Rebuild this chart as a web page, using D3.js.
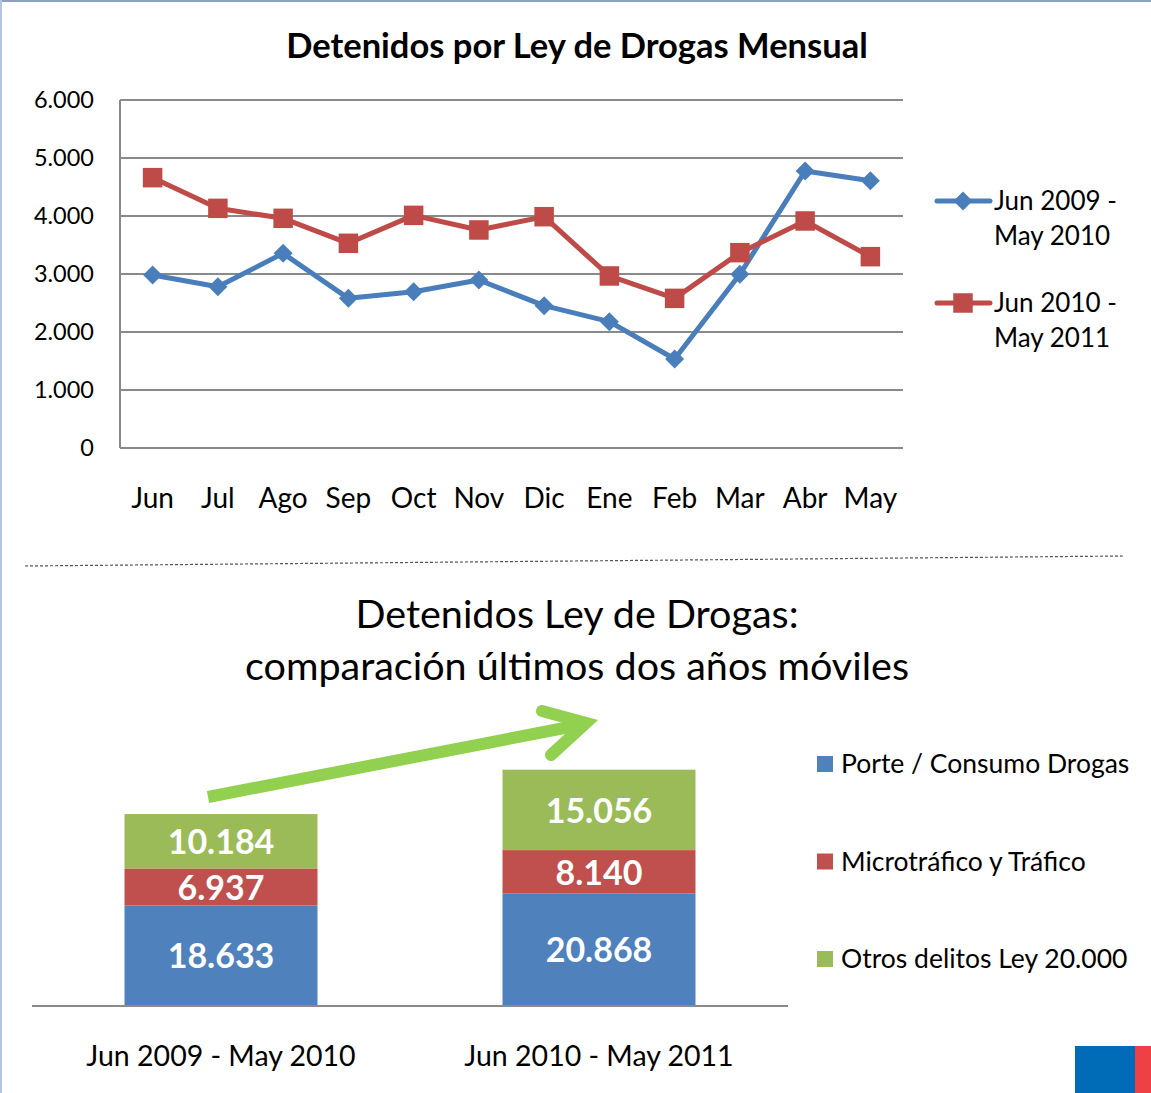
<!DOCTYPE html>
<html>
<head>
<meta charset="utf-8">
<script src="https://cdn.jsdelivr.net/npm/d3@7"></script>
<style>
  body { margin: 0; background: #fff; }
  svg { display: block; font-family: Lato, "Open Sans", sans-serif; }
</style>
</head>
<body>
<svg id="chart" width="1151" height="1093"></svg>
<script>
// monthly data
var months = ["Jun", "Jul", "Ago", "Sep", "Oct", "Nov", "Dic", "Ene", "Feb", "Mar", "Abr", "May"];
var serie2009 = [2983, 2781, 3356, 2580, 2695, 2897, 2454, 2178, 1534, 2995, 4776, 4609];
var serie2010 = [4661, 4132, 3960, 3529, 4011, 3759, 3988, 2966, 2580, 3368, 3914, 3299];
var serieNames = ["Jun 2009 - May 2010", "Jun 2010 - May 2011"];
var yTicks = [0, 1000, 2000, 3000, 4000, 5000, 6000];

// yearly stacked bars
var periods = ["Jun 2009 - May 2010", "Jun 2010 - May 2011"];
var porte = [18633, 20868];
var micro = [6937, 8140];
var otros = [10184, 15056];
var tipos = ["Porte / Consumo Drogas", "Microtráfico y Tráfico", "Otros delitos Ley 20.000"];

var es = d3.formatLocale({decimal: ",", thousands: ".", grouping: [3], currency: ["$", ""]});
var fmt = es.format(",d");

var svg = d3.select("#chart");

// frame lines
svg.append("line").attr("x1", 0).attr("x2", 1151).attr("y1", 1).attr("y2", 1)
  .attr("stroke", "#8da0bf").attr("stroke-width", 2);
svg.append("line").attr("x1", 1).attr("x2", 1).attr("y1", 0).attr("y2", 1093)
  .attr("stroke", "#b3c5df").attr("stroke-width", 2);

// ---------- top: line chart ----------
var x = d3.scalePoint().domain(months).range([120, 903]).padding(0.5);
var y = d3.scaleLinear().domain([0, 6000]).range([448, 100]);

svg.append("text").attr("x", 577).attr("y", 58).attr("text-anchor", "middle")
  .attr("font-size", 34.5).attr("font-weight", "bold").attr("fill", "#000")
  .text("Detenidos por Ley de Drogas Mensual");

// gridlines
svg.append("g").selectAll("line").data(yTicks).enter().append("line")
  .attr("x1", 120).attr("x2", 903)
  .attr("y1", d => y(d)).attr("y2", d => y(d))
  .attr("stroke", "#8a8a8a").attr("stroke-width", 2);
svg.append("line").attr("x1", 120).attr("x2", 120).attr("y1", y(6000)).attr("y2", y(0))
  .attr("stroke", "#8a8a8a").attr("stroke-width", 2);

svg.append("g").selectAll("text").data(yTicks).enter().append("text")
  .attr("x", 94).attr("y", d => y(d)).attr("dy", "0.35em")
  .attr("text-anchor", "end").attr("font-size", 23.5).attr("fill", "#000")
  .text(d => fmt(d));

svg.append("g").selectAll("text").data(months).enter().append("text")
  .attr("x", d => x(d)).attr("y", 508)
  .attr("text-anchor", "middle").attr("font-size", 28).attr("fill", "#000")
  .text(d => d);

var lineGen = d3.line().x((d, i) => x(months[i])).y(d => y(d));
var series = [
  {vals: serie2009, color: "#4a7ebb", marker: "diamond"},
  {vals: serie2010, color: "#be4b48", marker: "square"}
];

function marker(g, kind, color) {
  if (kind == "diamond") {
    g.append("path").attr("d", d3.symbol(d3.symbolSquare, 180)())
      .attr("transform", "rotate(45)").attr("fill", color);
  } else {
    g.append("path").attr("d", d3.symbol(d3.symbolSquare, 380)()).attr("fill", color);
  }
}

series.forEach(s => {
  svg.append("path").attr("d", lineGen(s.vals))
    .attr("fill", "none").attr("stroke", s.color).attr("stroke-width", 5)
    .attr("stroke-linejoin", "round");
  s.vals.forEach((v, i) => {
    var g = svg.append("g").attr("transform", `translate(${x(months[i])},${y(v)})`);
    marker(g, s.marker, s.color);
  });
});

// legend top
series.forEach((s, i) => {
  var ly = 201 + i * 102;
  svg.append("line").attr("x1", 937).attr("x2", 990).attr("y1", ly).attr("y2", ly)
    .attr("stroke", s.color).attr("stroke-width", 5).attr("stroke-linecap", "round");
  var g = svg.append("g").attr("transform", `translate(963,${ly})`);
  marker(g, s.marker, s.color);
  var parts = serieNames[i].split(" - ");
  svg.append("text").attr("x", 994).attr("y", ly + 9).attr("font-size", 26).attr("fill", "#000")
    .text(parts[0] + " -");
  svg.append("text").attr("x", 994).attr("y", ly + 44).attr("font-size", 26).attr("fill", "#000")
    .text(parts[1]);
});

// dotted separator
svg.append("line").attr("x1", 25).attr("x2", 1125).attr("y1", 566).attr("y2", 556)
  .attr("stroke", "#555").attr("stroke-width", 1.2).attr("stroke-dasharray", "3,2");

// ---------- bottom: stacked bars ----------
svg.append("text").attr("x", 577).attr("y", 628).attr("text-anchor", "middle")
  .attr("font-size", 39.5).attr("fill", "#000").text("Detenidos Ley de Drogas:");
svg.append("text").attr("x", 577).attr("y", 680).attr("text-anchor", "middle")
  .attr("font-size", 39.5).attr("fill", "#000").text("comparación últimos dos años móviles");

var bx = d3.scalePoint().domain(periods).range([32, 788]).padding(0.5);
var by = d3.scaleLinear().domain([0, 50000]).range([1005, 738]);
var barW = 193;
var colors = ["#4f81bd", "#c0504d", "#9bbb59"];

var rows = periods.map((p, i) => ({period: p, porte: porte[i], micro: micro[i], otros: otros[i]}));
var stack = d3.stack().keys(["porte", "micro", "otros"])(rows);

stack.forEach((layer, k) => {
  var g = svg.append("g");
  g.selectAll("rect").data(layer).enter().append("rect")
    .attr("x", d => bx(d.data.period) - barW / 2)
    .attr("width", barW)
    .attr("y", d => by(d[1]))
    .attr("height", d => by(d[0]) - by(d[1]))
    .attr("fill", colors[k]);
  g.selectAll("text").data(layer).enter().append("text")
    .attr("x", d => bx(d.data.period))
    .attr("y", d => (by(d[0]) + by(d[1])) / 2)
    .attr("dy", "0.38em")
    .attr("text-anchor", "middle").attr("font-size", 34).attr("font-weight", "bold")
    .attr("fill", "#fff")
    .text(d => fmt(d[1] - d[0]));
});

svg.append("line").attr("x1", 32).attr("x2", 788).attr("y1", 1006).attr("y2", 1006)
  .attr("stroke", "#8a8a8a").attr("stroke-width", 2);

svg.append("g").selectAll("text").data(periods).enter().append("text")
  .attr("x", d => bx(d)).attr("y", 1066).attr("text-anchor", "middle")
  .attr("font-size", 28.5).attr("fill", "#000").text(d => d);

// green arrow
var arrow = svg.append("g").attr("stroke", "#92d050").attr("fill", "none").attr("stroke-width", 12);
arrow.append("line").attr("x1", 208).attr("y1", 797).attr("x2", 580).attr("y2", 725);
arrow.append("path").attr("d", "M542,711 L586,723 L551,755")
  .attr("stroke-linecap", "round").attr("stroke-linejoin", "miter");

// legend bottom
tipos.forEach((t, i) => {
  var ly = 764 + i * 97.5;
  svg.append("rect").attr("x", 817).attr("y", ly - 8).attr("width", 16).attr("height", 16)
    .attr("fill", colors[i]);
  svg.append("text").attr("x", 841).attr("y", ly).attr("dy", "0.35em")
    .attr("font-size", 26.5).attr("fill", "#000").text(t);
});

// logo corner
svg.append("rect").attr("x", 1075).attr("y", 1046).attr("width", 60).attr("height", 47).attr("fill", "#006cb7");
svg.append("rect").attr("x", 1135).attr("y", 1046).attr("width", 16).attr("height", 47).attr("fill", "#ef4145");
</script>
</body>
</html>
